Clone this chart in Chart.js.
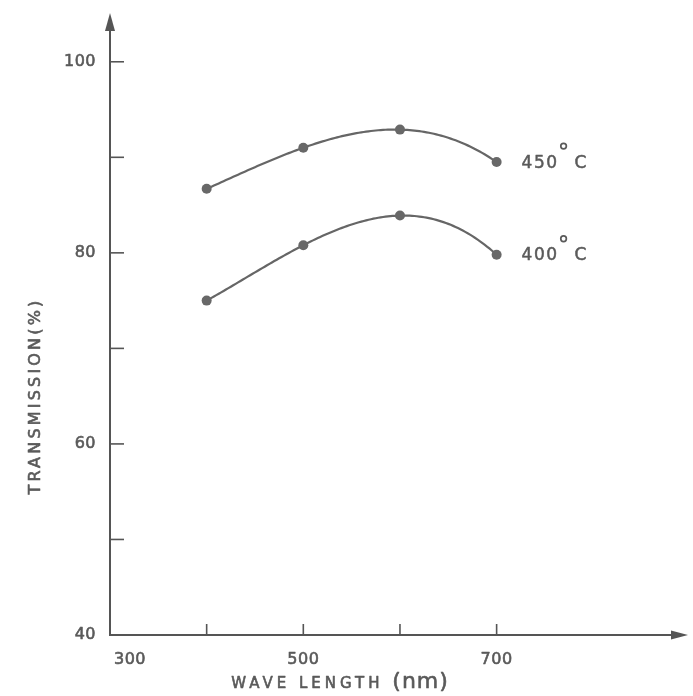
<!DOCTYPE html>
<html><head><meta charset="utf-8">
<script src="https://cdn.jsdelivr.net/npm/chart.js@4"></script>
<style>html,body{margin:0;padding:0;background:#fff;overflow:hidden}</style>
</head><body>
<canvas id="c" width="693" height="696" style="display:block;width:693px;height:696px"></canvas>
<script>
const wavelengths = [400, 500, 600, 700];
const trans450 = [86.7, 91.0, 92.9, 89.5];
const trans400 = [75.0, 80.8, 83.9, 79.8];
const seriesNames = ['450', '400'];
const yTickLabels = [40, 60, 80, 100];
const yTickMarks = [50, 60, 70, 80, 90, 100];
const xTickLabels = [300, 500, 700];
const xTickMarks = [400, 500, 600, 700];
const xTitle = 'WAVE LENGTH';
const xUnit = '(nm)';
const yTitle = 'TRANSMISSION(%)';

const INK = '#555';
const TXT = '#5a5a5a';
const FONT = '"DejaVu Sans", sans-serif';

function pts(ys){ return wavelengths.map((x,i)=>({x:x,y:ys[i]})); }

// smooth curve through the library-placed points (polynomial interpolation in pixel space)
function lagrange(P, x){
  let s = 0;
  for (let i=0;i<P.length;i++){
    let l = 1;
    for (let j=0;j<P.length;j++){ if (j!==i) l *= (x - P[j].x)/(P[i].x - P[j].x); }
    s += l * P[i].y;
  }
  return s;
}

const curves = {
  id:'curves',
  beforeDatasetsDraw(chart){
    const ctx = chart.ctx;
    ctx.save();
    chart.data.datasets.forEach((ds,i)=>{
      const P = chart.getDatasetMeta(i).data.map(e=>({x:e.x,y:e.y}));
      ctx.strokeStyle = '#666'; ctx.lineWidth = 2.2; ctx.lineJoin = 'round'; ctx.lineCap = 'round';
      ctx.beginPath();
      const a = P[0].x, b = P[P.length-1].x;
      for (let k=0;k<=120;k++){
        const x = a + (b-a)*k/120, y = lagrange(P, x);
        if (k===0) ctx.moveTo(x,y); else ctx.lineTo(x,y);
      }
      ctx.stroke();
    });
    ctx.restore();
  }
};

function bold(ctx, t, x, y){ ctx.fillText(t, x, y); ctx.strokeText(t, x, y); }

const decor = {
  id:'decor',
  afterDraw(chart){
    const ctx = chart.ctx, xs = chart.scales.x, ys = chart.scales.y;
    const x0 = xs.getPixelForValue(xs.min), y0 = ys.getPixelForValue(ys.min);
    const xEnd = xs.getPixelForValue(xs.max), yEnd = ys.getPixelForValue(ys.max);
    ctx.save();
    ctx.strokeStyle = INK; ctx.fillStyle = INK; ctx.lineWidth = 2;
    // axes
    ctx.beginPath(); ctx.moveTo(x0, y0+1); ctx.lineTo(x0, yEnd+12); ctx.stroke();
    ctx.beginPath(); ctx.moveTo(x0-1, y0); ctx.lineTo(xEnd-12, y0); ctx.stroke();
    // arrowheads
    ctx.beginPath(); ctx.moveTo(x0, yEnd-1); ctx.lineTo(x0-5, yEnd+17); ctx.lineTo(x0+5, yEnd+17); ctx.closePath(); ctx.fill();
    ctx.beginPath(); ctx.moveTo(xEnd, y0); ctx.lineTo(xEnd-17, y0-4.5); ctx.lineTo(xEnd-17, y0+4.5); ctx.closePath(); ctx.fill();
    // tick marks
    ctx.lineWidth = 1.6;
    yTickMarks.forEach(v=>{ const p = ys.getPixelForValue(v); ctx.beginPath(); ctx.moveTo(x0, p); ctx.lineTo(x0+14, p); ctx.stroke(); });
    xTickMarks.forEach(v=>{ const p = xs.getPixelForValue(v); ctx.beginPath(); ctx.moveTo(p, y0); ctx.lineTo(p, y0-11); ctx.stroke(); });
    // text styling
    ctx.fillStyle = TXT; ctx.strokeStyle = TXT; ctx.lineWidth = 0.6; ctx.lineJoin = 'round';
    // y tick labels
    ctx.font = '16px ' + FONT; ctx.textAlign = 'right'; ctx.textBaseline = 'middle';
    ctx.letterSpacing = '0.5px';
    yTickLabels.forEach(v=>{ bold(ctx, String(v), x0 - 14, ys.getPixelForValue(v)); });
    // x tick labels
    ctx.textAlign = 'center';
    xTickLabels.forEach(v=>{ let p = xs.getPixelForValue(v); if (v === xs.min) p += 20; bold(ctx, String(v), p, y0 + 25); });
    // x title
    ctx.font = '15px ' + FONT; ctx.letterSpacing = '4px'; ctx.textAlign = 'left';
    const w1 = ctx.measureText(xTitle + ' ').width;
    ctx.font = '22px ' + FONT; ctx.letterSpacing = '1px';
    const w2 = ctx.measureText(xUnit).width;
    let sx = 340 - (w1 + w2)/2;
    ctx.font = '15px ' + FONT; ctx.letterSpacing = '4px';
    bold(ctx, xTitle, sx, y0 + 49);
    ctx.font = '22px ' + FONT; ctx.letterSpacing = '1px';
    bold(ctx, xUnit, sx + w1, y0 + 47);
    // y title
    ctx.save();
    ctx.translate(36, 396); ctx.rotate(-Math.PI/2);
    ctx.font = '16px ' + FONT; ctx.letterSpacing = '3.2px'; ctx.textAlign = 'center';
    bold(ctx, yTitle, 0, 0);
    ctx.restore();
    // series labels
    ctx.letterSpacing = '1.5px';
    chart.data.datasets.forEach((ds, i)=>{
      const meta = chart.getDatasetMeta(i);
      const last = meta.data[meta.data.length-1];
      const lx = last.x + 25, ly = last.y + 1;
      ctx.font = '17px ' + FONT; ctx.textAlign = 'left'; ctx.textBaseline = 'middle';
      ctx.lineWidth = 0.5;
      bold(ctx, seriesNames[i], lx, ly);
      const w = ctx.measureText(seriesNames[i]).width;
      ctx.lineWidth = 1.7;
      ctx.beginPath(); ctx.arc(lx + w + 5, ly - 17, 2.8, 0, Math.PI*2); ctx.stroke();
      ctx.lineWidth = 0.5;
      bold(ctx, 'C', lx + w + 16, ly);
    });
    ctx.restore();
  }
};

new Chart(document.getElementById('c'), {
  type: 'line',
  data: {
    datasets: [
      { label: '450°C', data: pts(trans450) },
      { label: '400°C', data: pts(trans400) }
    ]
  },
  options: {
    responsive: false,
    animation: false,
    devicePixelRatio: 1,
    layout: { padding: { left: 110, top: 14, right: 1, bottom: 61 } },
    showLine: false,
    elements: {
      point: { radius: 5, backgroundColor: '#686868', borderColor: '#686868', borderWidth: 0 }
    },
    plugins: { legend: { display: false }, tooltip: { enabled: false } },
    scales: {
      x: {
        type: 'linear', min: 300, max: 898, display: false
      },
      y: {
        type: 'linear', min: 40, max: 105, display: false
      }
    }
  },
  plugins: [curves, decor]
});
</script>
</body></html>
